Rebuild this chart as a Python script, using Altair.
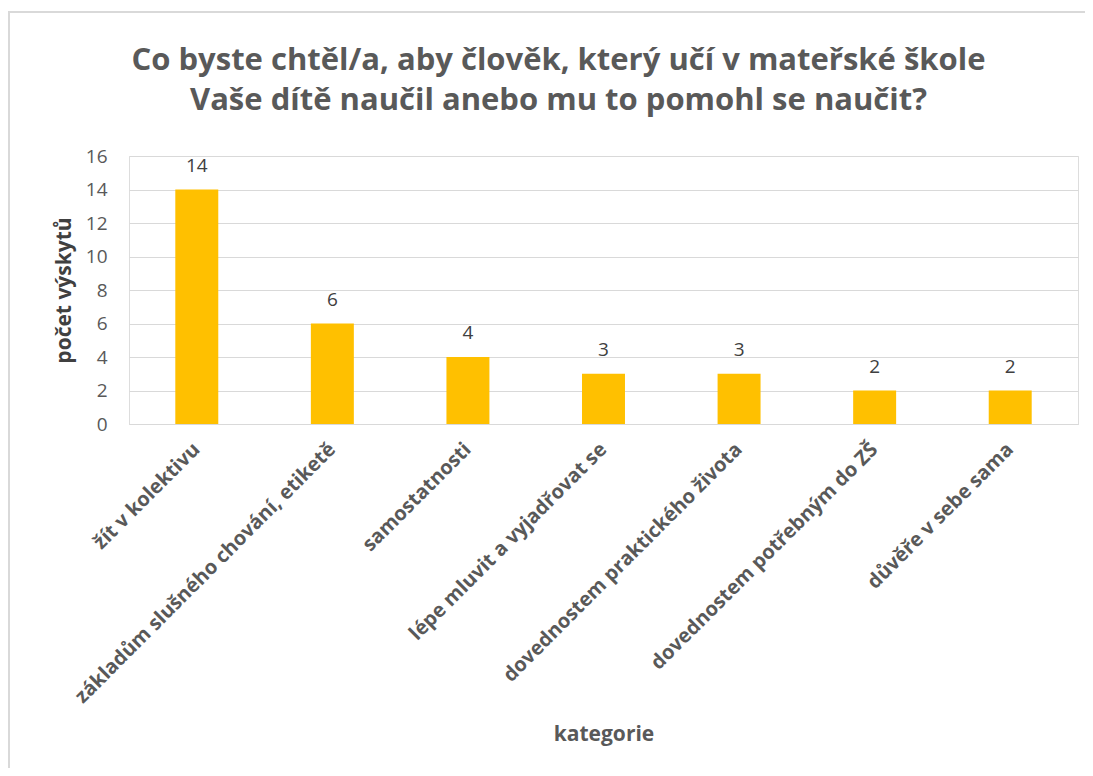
import altair as alt
import pandas as pd

categories = [
    "žít v kolektivu",
    "základům slušného chování, etiketě",
    "samostatnosti",
    "lépe mluvit a vyjadřovat se",
    "dovednostem praktického života",
    "dovednostem potřebným do ZŠ",
    "důvěře v sebe sama",
]
values = [14, 6, 4, 3, 3, 2, 2]
y_ticks = [0, 2, 4, 6, 8, 10, 12, 14, 16]

df = pd.DataFrame({"kategorie": categories, "pocet": values})

GREY = "#595959"
FONT = "Open Sans"

x_enc = alt.X(
    "kategorie:N",
    sort=categories,
    scale=alt.Scale(paddingInner=0.683, paddingOuter=0.3415),
    axis=alt.Axis(
        title="kategorie",
        labelAngle=-45,
        labelAlign="right",
        labelBaseline="middle",
        labelFont=FONT,
        labelFontWeight="bold",
        labelFontSize=20,
        labelColor=GREY,
        labelPadding=22,
        labelLimit=500,
        ticks=False,
        domainColor="#d9d9d9",
        titleFont=FONT,
        titleFontWeight="bold",
        titleFontSize=21,
        titleColor=GREY,
        titleY=299,
        titleBaseline="top",
    ),
)

y_enc = alt.Y(
    "pocet:Q",
    scale=alt.Scale(domain=[0, 16]),
    axis=alt.Axis(
        title="počet výskytů",
        values=y_ticks,
        tickCount=20,
        labelOverlap=False,
        grid=True,
        gridColor="#d9d9d9",
        domain=False,
        ticks=False,
        labelFont=FONT,
        labelFontSize=19,
        labelColor=GREY,
        labelPadding=22,
        titleFont=FONT,
        titleFontWeight="bold",
        titleFontSize=21,
        titleColor="#404040",
        titleX=-55,
    ),
)

base = alt.Chart(df)

bars = base.mark_bar(color="#FFC000").encode(x=x_enc, y=y_enc)

labels = base.mark_text(
    baseline="alphabetic", dy=-18, font=FONT, fontSize=19, color="#404040"
).encode(
    x=x_enc,
    y=y_enc,
    text=alt.Text("pocet:Q"),
)

border = base.mark_rect(
    fill="transparent", stroke="#d9d9d9", strokeWidth=1.5
).encode(
    x=alt.value(-120), x2=alt.value(1000), y=alt.value(-144), y2=alt.value(640)
)

chart = (
    alt.layer(border, bars, labels)
    .properties(
        width=949,
        height=268,
        title=alt.TitleParams(
            text=[
                "Co byste chtěl/a, aby člověk, který učí v mateřské škole",
                "Vaše dítě naučil anebo mu to pomohl se naučit?",
            ],
            font=FONT,
            fontSize=31,
            fontWeight="bold",
            color=GREY,
            anchor="middle",
            frame="group",
            dx=-45,
            offset=-106,
            lineHeight=40,
        ),
        autosize=alt.AutoSizeParams(type="none"),
        padding={"left": 121, "top": 148, "right": 7, "bottom": 344},
    )
    .configure_view(stroke="transparent", strokeWidth=0)
    .configure(background="white")
)

chart.save("out.html", embed_options={"renderer": "svg", "actions": False})
